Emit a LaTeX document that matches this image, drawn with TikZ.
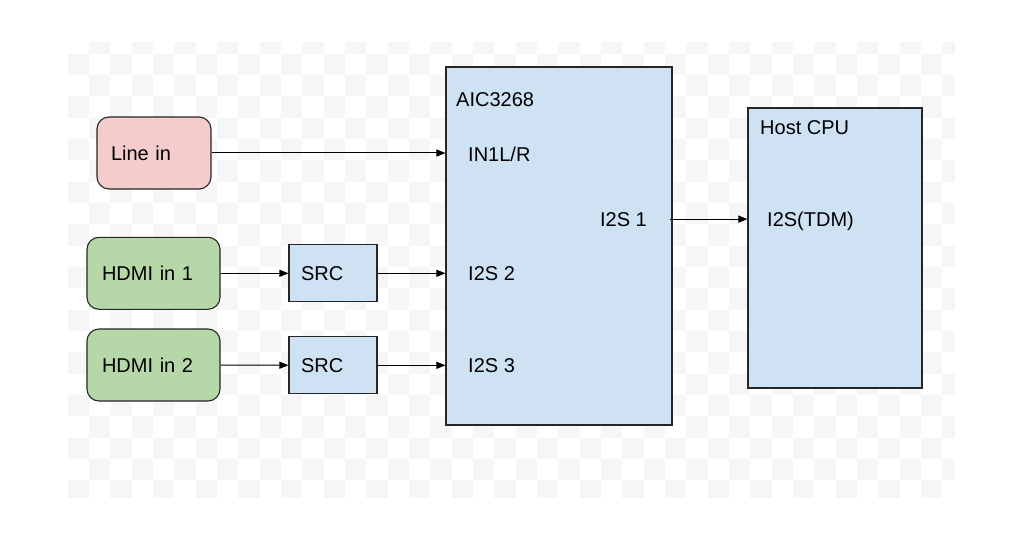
\documentclass[tikz,border=0pt]{standalone}
\usepackage{fontspec}
\setmainfont{Liberation Sans}
\usetikzlibrary{positioning,arrows.meta,calc}
\definecolor{linepink}{HTML}{F4CCCC}
\definecolor{hdmigreen}{HTML}{B6D7A8}
\definecolor{chipblue}{HTML}{CFE2F3}
\definecolor{checkgray}{HTML}{F6F6F6}

\begin{document}
\begin{tikzpicture}[x=1pt,y=-1pt,font=\fontsize{20}{24}\selectfont,>={Triangle[length=9pt,width=7pt]},
  blk/.style={draw=black!85,line width=1.1pt,inner ysep=0pt,align=left},
  inbox/.style={blk,rounded corners=12pt,minimum height=72pt},
  lbl/.style={anchor=base west,inner sep=0pt},
  wire/.style={->,line width=1pt}]
\useasboundingbox (0,0) rectangle (1024,540);
% transparent canvas
\begin{scope}
\clip (68,42.7) rectangle (955,497);
\foreach \i in {-1,...,20}
  \foreach \j in {-1,...,40} {
    \pgfmathtruncatemacro\k{\i+\j+2}
    \ifodd\k \fill[checkgray] (89+\j*21.33,53.7+\i*21.33) rectangle ++(21.33,21.33); \fi
  }
\end{scope}
% sources
\node[inbox,fill=linepink,inner xsep=14pt,text width=86pt] (linein) at (154,153) {Line in};
\node[inbox,fill=hdmigreen,inner xsep=15pt,text width=103pt] (hdmia) at (153.5,273.3) {HDMI in 1};
\node[inbox,fill=hdmigreen,inner xsep=15pt,text width=103pt] (hdmib) at (153.5,365) {HDMI in 2};
\node[blk,fill=chipblue,inner xsep=12pt,text width=64pt,minimum height=57pt] (srca) at (333,273.3) {SRC};
\node[blk,fill=chipblue,inner xsep=12pt,text width=64pt,minimum height=57pt] (srcb) at (333,365.3) {SRC};
% codec and host
\node[blk,fill=chipblue,minimum width=226pt,minimum height=358pt] (aic) at (559,246) {};
\node[blk,fill=chipblue,minimum width=174pt,minimum height=280pt] (host) at (835,248) {};
\node[lbl] (aicname) at (456,107) {AIC3268};
\node[lbl] (in1) at (468,161.5) {IN1L/R};
\node[lbl] (i2s2) at (468,280.5) {I2S 2};
\node[lbl] (i2s3) at (468,372.5) {I2S 3};
\node[anchor=base east,inner sep=0pt] (i2s1) at (647,226) {I2S 1};
\node[lbl] (hostname) at (760,135) {Host CPU};
\node[lbl] (tdm) at (767,226) {I2S(TDM)};
% links
\draw[wire] (linein) -- (linein -| aic.west);
\draw[wire] (hdmia) -- (srca);
\draw[wire] (hdmib) -- (srcb);
\draw[wire] (srca) -- (srca -| aic.west);
\draw[wire] (srcb) -- (srcb -| aic.west);
\draw[wire] ([xshift=-3pt]aic.east |- i2s1) -- (i2s1 -| host.west);
\end{tikzpicture}
\end{document}
